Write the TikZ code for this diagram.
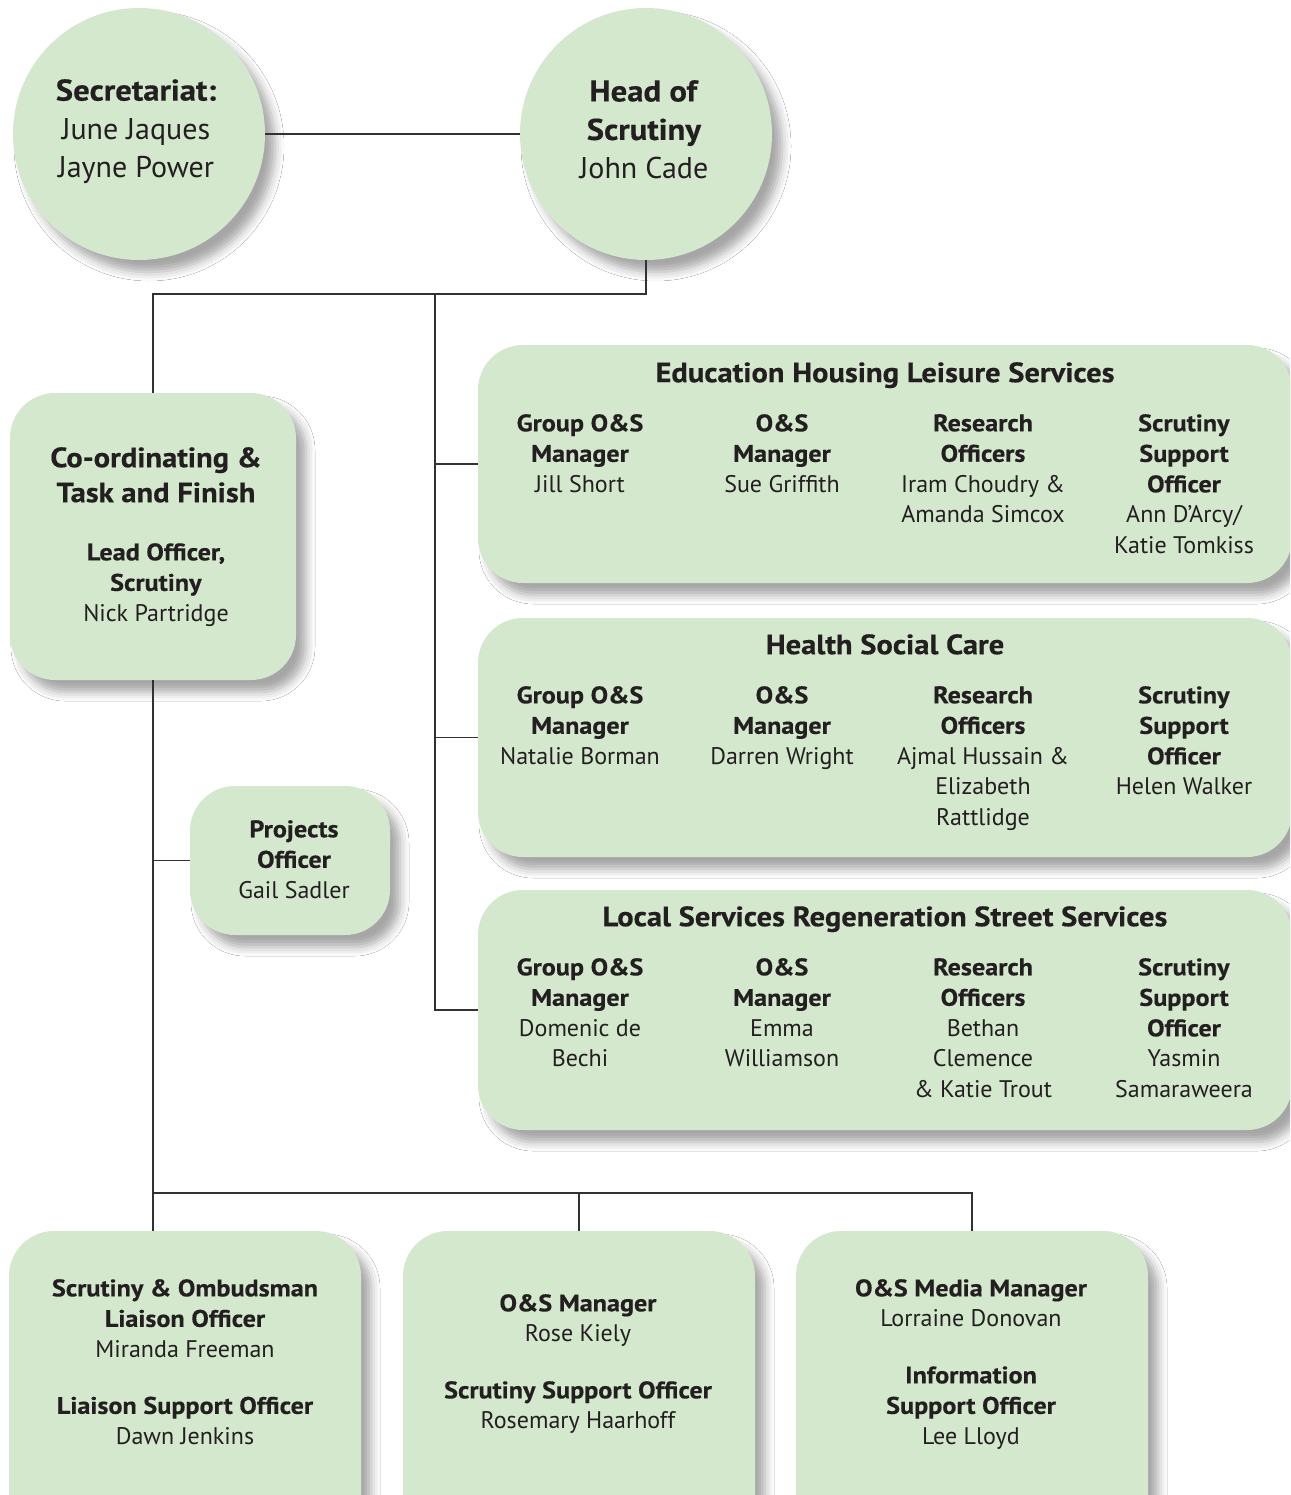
\documentclass[tikz,border=0pt]{standalone}
\usepackage{fontspec}
\setmainfont{PT Sans}[BoldFeatures={FakeStretch=1.09,FakeBold=0.4}]
\usetikzlibrary{shadows.blur}
\definecolor{boxgreen}{RGB}{211,232,204}
\definecolor{txt}{RGB}{35,31,32}
\definecolor{ln}{RGB}{50,50,50}
\newcommand\fs[2]{\fontsize{#1}{#2}\selectfont}
\begin{document}
\begin{tikzpicture}[x=1pt,y=-1pt,
  shad/.style={blur shadow={shadow xshift=10pt, shadow yshift=-12pt, shadow blur radius=9pt, shadow opacity=35}},
  bubble/.style={circle, fill=boxgreen, minimum size=252pt, inner sep=0pt, shad},
  panel/.style={rectangle, rounded corners=45pt, fill=boxgreen, inner sep=0pt, shad},
  txtblk/.style={anchor=north, align=center, inner sep=0pt, text=txt, font=\fs{24}{30.5}},
  ttl/.style={anchor=north, align=center, inner sep=0pt, text=txt, font=\fs{28}{33}\bfseries},
  conn/.style={draw=ln, line width=1.3pt}]
\clip (0,0) rectangle (1290,1495);
\fill[white] (0,0) rectangle (1290,1495);
% shapes
\node[bubble] (sec) at (139,134) {};
\node[bubble] (head) at (646,134) {};
\node[panel, minimum width=286pt, minimum height=287pt] (coord) at (153,536.5) {};
\node[panel, minimum width=200pt, minimum height=149pt] (proj) at (290,860.5) {};
\node[panel, minimum width=814pt, minimum height=238pt] (ehl) at (885,464) {};
\node[panel, minimum width=814pt, minimum height=239pt] (hsc) at (885,737.5) {};
\node[panel, minimum width=814pt, minimum height=240pt] (lsr) at (885,1010) {};
\node[panel, minimum width=352pt, minimum height=320pt] (b1) at (185,1391) {};
\node[panel, minimum width=352pt, minimum height=320pt] (b2) at (579,1391) {};
\node[panel, minimum width=352pt, minimum height=320pt] (b3) at (972,1391) {};
% connectors
\coordinate (bus) at (435,294);
\coordinate (bb) at (153,1193);
\draw[conn] (sec.east) -- (head.west);
\draw[conn] (head.south) |- (bus) -| (coord.north);
\draw[conn] (bus) |- (ehl.west);
\draw[conn] (bus) |- (hsc.west);
\draw[conn] (bus) |- (lsr.west);
\draw[conn] (coord.south) -- (coord.south |- b1.north);
\draw[conn] (coord.south) |- (proj.west);
\draw[conn] (bb) -| (b2.north);
\draw[conn] (bb) -| (b3.north);
% texts
\node[txtblk, font=\fs{30}{38.5}] (sect) at (136,79) {\textbf{Secretariat:}\\June Jaques\\Jayne Power};
\node[txtblk, font=\fs{30}{38.5}] (headt) at (644,80) {\textbf{Head of}\\\textbf{Scrutiny}\\John Cade};
\node[txtblk, font=\fs{28}{35}\bfseries] (coordt) at (156,447) {Co-ordinating \&\\Task and Finish};
\node[txtblk] (coordl) at (156,543) {\textbf{Lead Officer,}\\\textbf{Scrutiny}\\Nick Partridge};
\node[txtblk] (projt) at (294,820) {\textbf{Projects}\\\textbf{Officer}\\Gail Sadler};
% EHL
\node[ttl] (ehlt) at (885,362) {Education Housing Leisure Services};
\node[txtblk] (e1) at (580,414) {\textbf{Group O\&S}\\\textbf{Manager}\\Jill Short};
\node[txtblk] (e2) at (782,414) {\textbf{O\&S}\\\textbf{Manager}\\Sue Griffith};
\node[txtblk] (e3) at (983,414) {\textbf{Research}\\\textbf{Officers}\\Iram Choudry \&\\Amanda Simcox};
\node[txtblk] (e4) at (1184,414) {\textbf{Scrutiny}\\\textbf{Support}\\\textbf{Officer}\\Ann D’Arcy/\\Katie Tomkiss};
% HSC
\node[ttl] (hsct) at (885,634) {Health Social Care};
\node[txtblk] (h1) at (580,686) {\textbf{Group O\&S}\\\textbf{Manager}\\Natalie Borman};
\node[txtblk] (h2) at (782,686) {\textbf{O\&S}\\\textbf{Manager}\\Darren Wright};
\node[txtblk] (h3) at (983,686) {\textbf{Research}\\\textbf{Officers}\\Ajmal Hussain \&\\Elizabeth\\Rattlidge};
\node[txtblk] (h4) at (1184,686) {\textbf{Scrutiny}\\\textbf{Support}\\\textbf{Officer}\\Helen Walker};
% LSR
\node[ttl] (lsrt) at (885,906) {Local Services Regeneration Street Services};
\node[txtblk] (l1) at (580,958) {\textbf{Group O\&S}\\\textbf{Manager}\\Domenic de\\Bechi};
\node[txtblk] (l2) at (782,958) {\textbf{O\&S}\\\textbf{Manager}\\Emma\\Williamson};
\node[txtblk] (l3) at (983,958) {\textbf{Research}\\\textbf{Officers}\\Bethan\\Clemence\\\& Katie Trout};
\node[txtblk] (l4) at (1184,958) {\textbf{Scrutiny}\\\textbf{Support}\\\textbf{Officer}\\Yasmin\\Samaraweera};
% bottom
\node[txtblk] (b1t) at (185,1279) {\textbf{Scrutiny \& Ombudsman}\\\textbf{Liaison Officer}\\Miranda Freeman\\[26pt]\textbf{Liaison Support Officer}\\Dawn Jenkins};
\node[txtblk] (b2t) at (578,1294) {\textbf{O\&S Manager}\\Rose Kiely\\[26pt]\textbf{Scrutiny Support Officer}\\Rosemary Haarhoff};
\node[txtblk] (b3t) at (971,1279) {\textbf{O\&S Media Manager}\\Lorraine Donovan\\[26pt]\textbf{Information}\\\textbf{Support Officer}\\Lee Lloyd};
\end{tikzpicture}
\end{document}
